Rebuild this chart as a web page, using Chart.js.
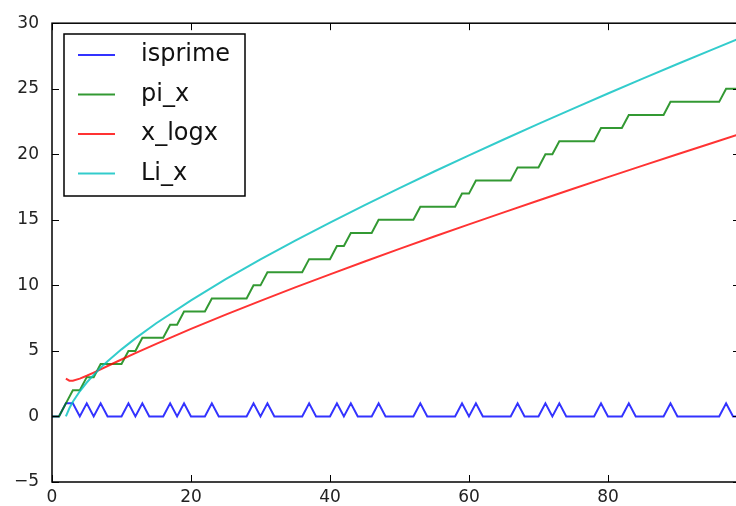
<!DOCTYPE html>
<html>
<head>
<meta charset="utf-8">
<script src="https://cdn.jsdelivr.net/npm/chart.js@4.4.1/dist/chart.umd.min.js"></script>
<style>
    html, body { margin: 0; padding: 0; background: #fff; overflow: hidden; }
    #wrap { width: 742px; height: 506px; }
</style>
</head>
<body>
<div id="wrap"><canvas id="primeChart" width="742" height="506"></canvas></div>
<script>

// ================= DATA =================

// isprime / pi_x are sampled at n = 0..99
const isPrime = [
    0,0,1,1,0,1,0,1,0,0,
    0,1,0,1,0,0,0,1,0,1,
    0,0,0,1,0,0,0,0,0,1,
    0,1,0,0,0,0,0,1,0,0,
    0,1,0,1,0,0,0,1,0,0,
    0,0,0,1,0,0,0,0,0,1,
    0,1,0,0,0,0,0,1,0,0,
    0,1,0,1,0,0,0,0,0,1,
    0,0,0,1,0,0,0,0,0,1,
    0,0,0,0,0,0,0,1,0,0
];

const piX = [
    0,0,1,2,2,3,3,4,4,4,
    4,5,5,6,6,6,6,7,7,8,
    8,8,8,9,9,9,9,9,9,10,
    10,11,11,11,11,11,11,12,12,12,
    12,13,13,14,14,14,14,15,15,15,
    15,15,15,16,16,16,16,16,16,17,
    17,18,18,18,18,18,18,19,19,19,
    19,20,20,21,21,21,21,21,21,22,
    22,22,22,23,23,23,23,23,23,24,
    24,24,24,24,24,24,24,25,25,25
];

// smooth curves, read at these x positions
const curveX = [2, 2.5, 3, 4, 5, 6, 7, 8, 10, 12, 15, 20, 25, 30, 35, 40, 45, 50, 55, 60, 65, 70, 75, 80, 85, 90, 95, 99];
const xLogX  = [2.885, 2.728, 2.731, 2.885, 3.107, 3.349, 3.597, 3.847, 4.343, 4.829, 5.539, 6.676, 7.767, 8.820, 9.844, 10.843, 11.821, 12.781, 13.725, 14.654, 15.571, 16.476, 17.371, 18.256, 19.133, 20.001, 20.861, 21.545];
const liX    = [0, 0.622, 1.118, 1.922, 2.589, 3.176, 3.712, 4.209, 5.120, 5.955, 7.110, 8.860, 10.468, 11.978, 13.415, 14.795, 16.128, 17.424, 18.686, 19.920, 21.130, 22.317, 23.484, 24.634, 25.767, 26.885, 27.989, 28.864];

const seriesNames = ["isprime", "pi_x", "x_logx", "Li_x"];
const seriesColors = ["rgba(0,0,255,0.8)", "rgba(0,128,0,0.8)", "rgba(255,0,0,0.8)", "rgba(0,191,191,0.8)"];

const xTicks = [0, 20, 40, 60, 80];
const yTicks = [-5, 0, 5, 10, 15, 20, 25, 30];

// ================= HELPERS =================

function byIndex(values){
    return values.map((v, i) => ({ x: i, y: v }));
}

function byX(xs, values){
    return values.map((v, i) => ({ x: xs[i], y: v }));
}

// matplotlib style frame: box + inward ticks on all four sides
const framePlugin = {
    id: "frame",
    afterDatasetsDraw(chart){
        const ctx = chart.ctx;
        const a = chart.chartArea;
        const xs = chart.scales.x;
        const ys = chart.scales.y;
        const len = 7;

        ctx.save();
        ctx.strokeStyle = "#000";
        ctx.lineWidth = 1;

        xTicks.forEach(t => {
            const px = Math.round(xs.getPixelForValue(t)) + 0.5;
            ctx.beginPath();
            ctx.moveTo(px, a.bottom); ctx.lineTo(px, a.bottom - len);
            ctx.moveTo(px, a.top);    ctx.lineTo(px, a.top + len);
            ctx.stroke();
        });
        yTicks.forEach(t => {
            const py = Math.round(ys.getPixelForValue(t)) + 0.5;
            ctx.beginPath();
            ctx.moveTo(a.left, py);  ctx.lineTo(a.left + len, py);
            ctx.moveTo(a.right, py); ctx.lineTo(a.right - len, py);
            ctx.stroke();
        });

        ctx.lineWidth = 1.5;
        ctx.strokeRect(a.left, a.top, a.right - a.left, a.bottom - a.top);
        ctx.restore();
    }
};

// legend box in the upper left corner
const legendPlugin = {
    id: "boxLegend",
    afterDraw(chart){
        const ctx = chart.ctx;
        const box = { x: 64, y: 34, w: 181, h: 162 };
        const rowGap = 39.5;

        ctx.save();
        ctx.fillStyle = "#fff";
        ctx.fillRect(box.x, box.y, box.w, box.h);
        ctx.strokeStyle = "#000";
        ctx.lineWidth = 1.5;
        ctx.strokeRect(box.x, box.y, box.w, box.h);

        ctx.font = "24px 'DejaVu Sans'";
        ctx.textBaseline = "middle";
        ctx.fillStyle = "#111";

        seriesNames.forEach((name, i) => {
            const y = 55 + i * rowGap;
            ctx.strokeStyle = seriesColors[i];
            ctx.lineWidth = 2;
            ctx.beginPath();
            ctx.moveTo(78, y);
            ctx.lineTo(115, y);
            ctx.stroke();
            ctx.fillText(name, 141, y);
        });
        ctx.restore();
    }
};

// ================= CHART =================

let primeChart;

function drawChart(){

    const ctx = document.getElementById("primeChart");
    const allData = [byIndex(isPrime), byIndex(piX), byX(curveX, xLogX), byX(curveX, liX)];

    primeChart = new Chart(ctx, {
        type: "line",
        data: {
            datasets: seriesNames.map((name, i) => ({
                label: name,
                data: allData[i],
                borderColor: seriesColors[i],
                borderWidth: 2,
                pointRadius: 0,
                tension: 0,
                fill: false,
                order: seriesNames.length - i
            }))
        },
        options: {
            responsive: false,
            devicePixelRatio: 1,
            animation: false,
            events: [],
            layout: { padding: { top: 22, right: 2, left: 0, bottom: 0 } },
            plugins: {
                legend: { display: false },
                tooltip: { enabled: false }
            },
            scales: {
                x: {
                    type: "linear",
                    min: 0,
                    max: 99,
                    grid: { display: false, drawTicks: false },
                    border: { display: false },
                    afterFit(scale){ scale.height = 24; },
                    afterBuildTicks(scale){ scale.ticks = xTicks.map(v => ({ value: v })); },
                    ticks: {
                        padding: 5,
                        color: "#222",
                        font: { family: "DejaVu Sans", size: 17 },
                        maxRotation: 0,
                        callback: v => String(v)
                    }
                },
                y: {
                    type: "linear",
                    min: -5,
                    max: 30,
                    grid: { display: false, drawTicks: false },
                    border: { display: false },
                    afterFit(scale){ scale.width = 52; },
                    afterBuildTicks(scale){ scale.ticks = yTicks.map(v => ({ value: v })); },
                    ticks: {
                        padding: 13,
                        color: "#222",
                        font: { family: "DejaVu Sans", size: 17 },
                        callback: v => (v < 0 ? "\u2212" + Math.abs(v) : String(v))
                    }
                }
            }
        },
        plugins: [framePlugin, legendPlugin]
    });
}

// ================= RUN ON PAGE LOAD =================

document.addEventListener("DOMContentLoaded", function(){
    drawChart();
});
</script>
</body>
</html>
